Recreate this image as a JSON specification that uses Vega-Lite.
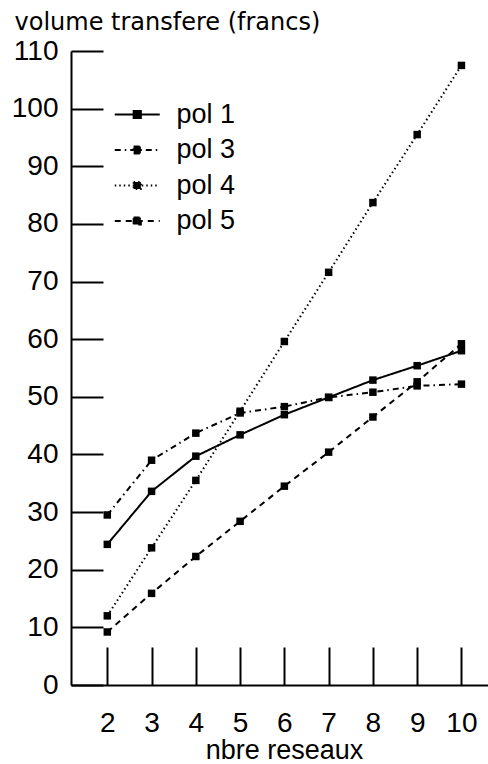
{
  "$schema": "https://vega.github.io/schema/vega-lite/v6.json",
  "width": 417,
  "height": 634,
  "autosize": {"type": "none"},
  "padding": {"left": 71, "top": 51, "right": 0, "bottom": 79},
  "background": "white",
  "config": {
    "view": {"stroke": null},
    "axis": {
      "grid": false,
      "domainColor": "black",
      "domainWidth": 2,
      "tickColor": "black",
      "tickWidth": 2,
      "labelColor": "black",
      "titleColor": "black",
      "labelFont": "Liberation Sans",
      "titleFont": "Liberation Sans"
    }
  },
  "data": {
    "values": [
      {"serie": "pol 1", "n": 2, "v": 24.4},
      {"serie": "pol 1", "n": 3, "v": 33.6},
      {"serie": "pol 1", "n": 4, "v": 39.7},
      {"serie": "pol 1", "n": 5, "v": 43.4},
      {"serie": "pol 1", "n": 6, "v": 46.9},
      {"serie": "pol 1", "n": 7, "v": 49.9},
      {"serie": "pol 1", "n": 8, "v": 52.9},
      {"serie": "pol 1", "n": 9, "v": 55.4},
      {"serie": "pol 1", "n": 10, "v": 58.0},
      {"serie": "pol 3", "n": 2, "v": 29.5},
      {"serie": "pol 3", "n": 3, "v": 39.0},
      {"serie": "pol 3", "n": 4, "v": 43.7},
      {"serie": "pol 3", "n": 5, "v": 47.2},
      {"serie": "pol 3", "n": 6, "v": 48.3},
      {"serie": "pol 3", "n": 7, "v": 49.9},
      {"serie": "pol 3", "n": 8, "v": 50.8},
      {"serie": "pol 3", "n": 9, "v": 51.9},
      {"serie": "pol 3", "n": 10, "v": 52.2},
      {"serie": "pol 4", "n": 2, "v": 12.0},
      {"serie": "pol 4", "n": 3, "v": 23.8},
      {"serie": "pol 4", "n": 4, "v": 35.5},
      {"serie": "pol 4", "n": 5, "v": 47.5},
      {"serie": "pol 4", "n": 6, "v": 59.6},
      {"serie": "pol 4", "n": 7, "v": 71.6},
      {"serie": "pol 4", "n": 8, "v": 83.7},
      {"serie": "pol 4", "n": 9, "v": 95.5},
      {"serie": "pol 4", "n": 10, "v": 107.5},
      {"serie": "pol 5", "n": 2, "v": 9.2},
      {"serie": "pol 5", "n": 3, "v": 15.9},
      {"serie": "pol 5", "n": 4, "v": 22.3},
      {"serie": "pol 5", "n": 5, "v": 28.4},
      {"serie": "pol 5", "n": 6, "v": 34.5},
      {"serie": "pol 5", "n": 7, "v": 40.4},
      {"serie": "pol 5", "n": 8, "v": 46.5},
      {"serie": "pol 5", "n": 9, "v": 52.6},
      {"serie": "pol 5", "n": 10, "v": 59.2}
    ]
  },
  "layer": [
    {
      "mark": {"type": "line", "color": "black", "strokeWidth": 2},
      "encoding": {
        "x": {
          "field": "n",
          "type": "quantitative",
          "scale": {"domain": [1.18, 10.6], "nice": false, "zero": false},
          "axis": {
            "values": [2, 3, 4, 5, 6, 7, 8, 9, 10],
            "tickSize": -38,
            "labelPadding": 62,
            "labelFontSize": 28,
            "labelFlush": false,
            "labelOverlap": false,
            "title": "nbre reseaux",
            "titleFontSize": 27,
            "titleFontWeight": "normal",
            "titleX": 213,
            "titleY": 73,
            "titleAlign": "center",
            "titleBaseline": "alphabetic"
          }
        },
        "y": {
          "field": "v",
          "type": "quantitative",
          "scale": {"domain": [0, 110], "nice": false, "zero": true},
          "axis": {
            "values": [0, 10, 20, 30, 40, 50, 60, 70, 80, 90, 100, 110],
            "tickSize": -32,
            "labelPadding": 45,
            "labelFontSize": 28,
            "labelFlush": false,
            "labelOverlap": false,
            "title": "volume transfere (francs)",
            "titleFont": "DejaVu Sans",
            "titleFontSize": 24,
            "titleFontWeight": "normal",
            "titleAngle": 0,
            "titleX": -57,
            "titleY": -22,
            "titleAlign": "left",
            "titleBaseline": "alphabetic"
          }
        },
        "strokeDash": {
          "field": "serie",
          "type": "nominal",
          "scale": {
            "domain": ["pol 1", "pol 3", "pol 4", "pol 5"],
            "range": [[1, 0], [6, 4, 1.5, 4], [1.5, 3], [6, 5]]
          },
          "legend": {
            "orient": "none",
            "legendX": 52.75,
            "legendY": 50,
            "title": null,
            "padding": 0,
            "symbolType": "M-2,0H2M-0.32,-0.32H0.32V0.32H-0.32Z",
            "symbolSize": 506,
            "symbolStrokeWidth": 2,
            "symbolStrokeColor": "black",
            "symbolFillColor": "black",
            "labelFont": "Liberation Sans",
            "labelFontSize": 27,
            "labelColor": "black",
            "labelOffset": 25.75,
            "labelBaseline": "middle",
            "rowPadding": 7.5,
            "encode": {"symbols": {"update": {"fill": {"value": "black"}, "stroke": {"value": "black"}}}}
          }
        }
      }
    },
    {
      "mark": {"type": "point", "shape": "square", "filled": true, "color": "black", "size": 56, "opacity": 1},
      "encoding": {
        "x": {"field": "n", "type": "quantitative"},
        "y": {"field": "v", "type": "quantitative"},
        "detail": {"field": "serie", "type": "nominal"}
      }
    }
  ]
}
